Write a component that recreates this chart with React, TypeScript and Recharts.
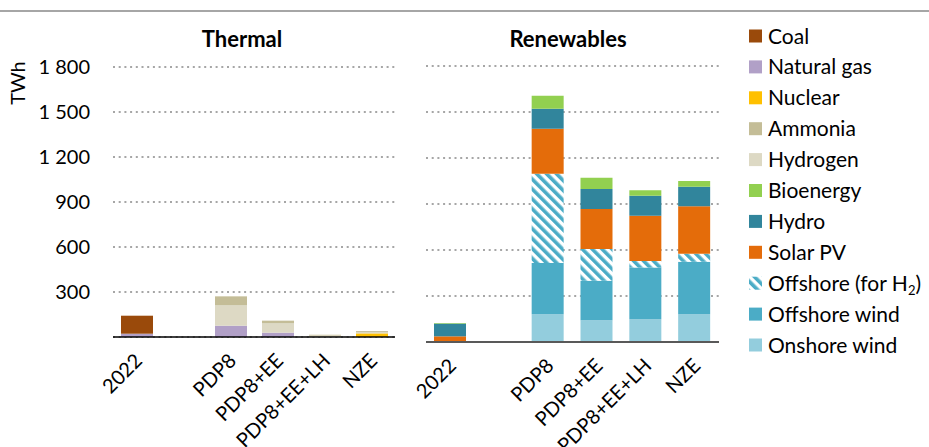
import { BarChart, Bar, XAxis, YAxis, CartesianGrid } from "recharts"

const FONT = "Lato, 'Noto Sans', sans-serif"

const categories = ["2022", "", "PDP8", "PDP8+EE", "PDP8+EE+LH", "NZE"]
const yTicks = [300, 600, 900, 1200, 1500, 1800]

// thermal (TWh)
const coal = [120, 0, 0, 0, 0, 0]
const naturalGas = [22, 0, 75, 29, 0, 0]
const nuclear = [0, 0, 0, 0, 0, 24]
const ammonia = [0, 0, 60, 18, 5, 6]
const hydrogen = [0, 0, 136, 62, 10, 10]

// renewables (TWh)
const bioenergy = [4, 0, 85, 74, 35, 37]
const hydro = [83, 0, 131, 131, 130, 128]
const solarPV = [32, 0, 292, 261, 295, 310]
const offshoreH2 = [0, 0, 582, 207, 43, 52]
const offshoreWind = [0, 0, 335, 257, 338, 342]
const onshoreWind = [5, 0, 181, 142, 148, 181]

const COLORS: Record<string, string> = {
  coal: "#9A4A0B",
  naturalGas: "#B1A0C7",
  nuclear: "#FFC000",
  ammonia: "#C4BD97",
  hydrogen: "#DDD9C4",
  bioenergy: "#92D050",
  hydro: "#31859C",
  solarPV: "#E46C0A",
  offshoreH2: "url(#h2hatch)",
  offshoreWind: "#4BACC6",
  onshoreWind: "#93CDDD",
}

// bottom -> top
const thermalKeys = ["nuclear", "naturalGas", "coal", "hydrogen", "ammonia"]
const renewableKeys = ["onshoreWind", "offshoreWind", "offshoreH2", "solarPV", "hydro", "bioenergy"]

const legendItems = [
  { key: "coal", label: "Coal" },
  { key: "naturalGas", label: "Natural gas" },
  { key: "nuclear", label: "Nuclear" },
  { key: "ammonia", label: "Ammonia" },
  { key: "hydrogen", label: "Hydrogen" },
  { key: "bioenergy", label: "Bioenergy" },
  { key: "hydro", label: "Hydro" },
  { key: "solarPV", label: "Solar PV" },
  { key: "offshoreH2", label: "Offshore (for H2)" },
  { key: "offshoreWind", label: "Offshore wind" },
  { key: "onshoreWind", label: "Onshore wind" },
]

const data = categories.map((name, i) => ({
  name,
  coal: coal[i],
  naturalGas: naturalGas[i],
  nuclear: nuclear[i],
  ammonia: ammonia[i],
  hydrogen: hydrogen[i],
  bioenergy: bioenergy[i],
  hydro: hydro[i],
  solarPV: solarPV[i],
  offshoreH2: offshoreH2[i],
  offshoreWind: offshoreWind[i],
  onshoreWind: onshoreWind[i],
}))

const Hatch = ({ id }: { id: string }) => (
  <pattern id={id} patternUnits="userSpaceOnUse" width="7" height="7" patternTransform="rotate(-45)">
    <rect width="7" height="7" fill="#ffffff" />
    <rect width="3.6" height="7" fill="#4BACC6" />
  </pattern>
)

const AngledTick = ({ x, y, payload }: any) => (
  <g transform={`translate(${x + 7},${y + 25}) rotate(-45)`}>
    <text textAnchor="end" fontSize={20} fontFamily={FONT} fill="#000">
      {payload.value}
    </text>
  </g>
)

export default function App() {
  return (
    <div style={{ position: "absolute", left: 0, top: 0, width: 929, height: 447, background: "#fff", fontFamily: FONT }}>
      <div style={{ position: "absolute", left: 0, top: 10, width: 929, height: 2, background: "#a6a6a6" }} />

      {/* Thermal */}
      <div style={{ position: "absolute", left: 0, top: 0 }}>
        <BarChart width={400} height={447} data={data} margin={{ top: 67, right: 5, left: 0, bottom: 10 }} barSize={32}>
          <CartesianGrid vertical={false} stroke="#a6a6a6" strokeWidth={2} strokeDasharray="2 3.7" />
          <XAxis dataKey="name" interval={0} height={100} tick={<AngledTick />} tickLine={false} tickSize={0} tickMargin={0} axisLine={{ stroke: "#000", strokeWidth: 1.5 }} />
          <YAxis width={113} domain={[0, 1800]} ticks={yTicks} tickFormatter={(v: number) => v.toLocaleString("fr-FR").replace(/\u202f|\u00a0/g, " ")} tickLine={false} tickSize={0} tickMargin={23} axisLine={false} tick={{ fontSize: 20, fill: "#000", fontFamily: FONT }} />
          {thermalKeys.map((k) => (
            <Bar key={k} dataKey={k} stackId="t" fill={COLORS[k]} isAnimationActive={false} />
          ))}
        </BarChart>
      </div>

      {/* Renewables */}
      <div style={{ position: "absolute", left: 400, top: 0 }}>
        <BarChart width={330} height={447} data={data} margin={{ top: 66, right: 11, left: 26, bottom: 10 }} barSize={32}>
          <defs>
            <Hatch id="h2hatch" />
          </defs>
          <CartesianGrid vertical={false} stroke="#a6a6a6" strokeWidth={2} strokeDasharray="2 3.7" />
          <XAxis dataKey="name" interval={0} height={95} tick={<AngledTick />} tickLine={false} tickSize={0} tickMargin={0} axisLine={{ stroke: "#595959", strokeWidth: 2 }} />
          <YAxis hide domain={[0, 1800]} ticks={yTicks} />
          {renewableKeys.map((k) => (
            <Bar key={k} dataKey={k} stackId="r" fill={COLORS[k]} isAnimationActive={false} />
          ))}
        </BarChart>
      </div>

      {/* titles, unit, legend */}
      <svg width={929} height={447} style={{ position: "absolute", left: 0, top: 0, pointerEvents: "none" }}>
        <defs>
          <Hatch id="h2hatchLegend" />
        </defs>
        <text x={242} y={47} textAnchor="middle" fontSize={22} fontWeight="bold" fontFamily={FONT}>Thermal</text>
        <text x={568} y={47} textAnchor="middle" fontSize={22} fontWeight="bold" fontFamily={FONT}>Renewables</text>
        <text transform="translate(25,83) rotate(-90)" textAnchor="middle" fontSize={20} fontFamily={FONT}>TWh</text>
        {legendItems.map((it, i) => {
          const cy = 36 + i * 30.9
          const fill = it.key === "offshoreH2" ? "url(#h2hatchLegend)" : COLORS[it.key]
          return (
            <g key={it.key}>
              <rect x={749} y={cy - 6.5} width={13} height={13} fill={fill} />
              <text x={768} y={cy + 7.5} fontSize={21} fontFamily={FONT} fill="#000">
                {it.key === "offshoreH2" ? (
                  <>
                    Offshore (for H<tspan fontSize={13} dy={4}>2</tspan><tspan dy={-4}>)</tspan>
                  </>
                ) : (
                  it.label
                )}
              </text>
            </g>
          )
        })}
      </svg>
    </div>
  )
}
